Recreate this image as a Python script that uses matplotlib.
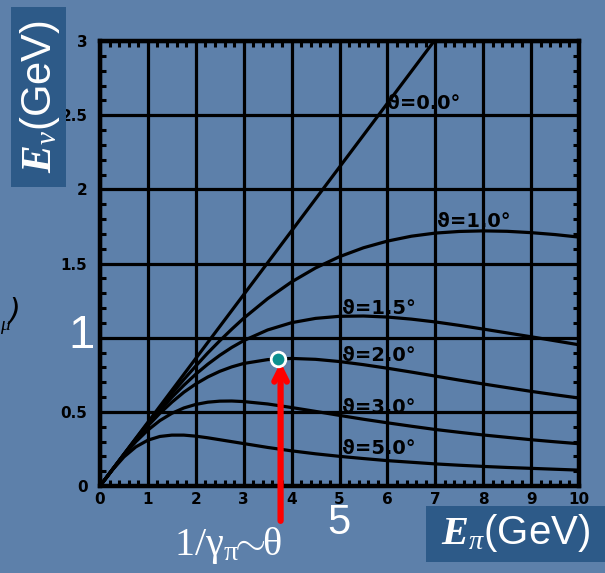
import matplotlib
matplotlib.use("Agg")
import matplotlib.pyplot as plt
from matplotlib.patches import Rectangle
from matplotlib.ticker import MultipleLocator

plt.rcParams['mathtext.fontset'] = 'custom'
plt.rcParams['mathtext.rm'] = 'Liberation Serif'
plt.rcParams['mathtext.it'] = 'Liberation Serif:italic'
plt.rcParams['mathtext.bf'] = 'Liberation Serif:bold:italic'

# ---- data ----
e_pi = [0, 0.25, 0.5, 0.75, 1, 1.25, 1.5, 1.75, 2, 2.25, 2.5, 2.75, 3,
        3.5, 4, 4.5, 5, 5.5, 6, 6.5, 7, 7.5, 8, 8.5, 9, 9.5, 10]
theta0_x = [0, 7.0]
theta0_y = [0, 3.01]
theta10 = [0, 0.107, 0.214, 0.320, 0.423, 0.525, 0.623, 0.718, 0.809, 0.897, 0.979, 1.057, 1.131,
           1.263, 1.376, 1.470, 1.546, 1.606, 1.651, 1.684, 1.705, 1.716, 1.720, 1.717, 1.708, 1.695, 1.678]
theta15 = [0, 0.107, 0.213, 0.316, 0.415, 0.510, 0.598, 0.679, 0.754, 0.821, 0.881, 0.934, 0.980,
           1.052, 1.101, 1.130, 1.144, 1.146, 1.139, 1.125, 1.106, 1.083, 1.058, 1.032, 1.006, 0.979, 0.952]
theta20 = [0, 0.107, 0.212, 0.312, 0.405, 0.490, 0.565, 0.632, 0.688, 0.735, 0.773, 0.803, 0.826,
           0.852, 0.860, 0.854, 0.839, 0.818, 0.794, 0.768, 0.741, 0.714, 0.688, 0.663, 0.638, 0.615, 0.593]
theta30 = [0, 0.107, 0.208, 0.299, 0.377, 0.441, 0.490, 0.526, 0.550, 0.565, 0.572, 0.573, 0.569,
           0.553, 0.529, 0.503, 0.476, 0.450, 0.426, 0.403, 0.381, 0.362, 0.344, 0.328, 0.312, 0.298, 0.285]
theta50 = [0, 0.105, 0.196, 0.264, 0.309, 0.334, 0.343, 0.343, 0.336, 0.325, 0.312, 0.299, 0.286,
           0.260, 0.237, 0.217, 0.200, 0.185, 0.171, 0.160, 0.149, 0.140, 0.132, 0.125, 0.119, 0.113, 0.107]
curve_labels = ['ϑ=0.0°', 'ϑ=1.0°', 'ϑ=1.5°', 'ϑ=2.0°', 'ϑ=3.0°', 'ϑ=5.0°']
label_x = [6.0, 7.04, 5.05, 5.05, 5.05, 5.05]
label_y = [2.58, 1.78, 1.20, 0.88, 0.53, 0.25]
x_ticks = [0, 1, 2, 3, 4, 5, 6, 7, 8, 9, 10]
y_ticks = [0, 0.5, 1, 1.5, 2, 2.5, 3]
y_ticklabels = ['0', '0.5', '', '1.5', '2', '2.5', '3']
marker_x, marker_y = 3.72, 0.855
arrow_x = 3.77

BG = '#5d80aa'
BOX = '#2d5a88'
W, H = 605, 573

fig = plt.figure(figsize=(W / 100, H / 100), dpi=100, facecolor=BG)
ax = fig.add_axes([100 / W, 87 / H, 479 / W, 445 / H])
ax.set_facecolor('none')
ax.set_xlim(0, 10)
ax.set_ylim(0, 3)

ax.set_xticks(x_ticks)
ax.set_xticklabels([str(v) for v in x_ticks])
ax.set_yticks(y_ticks)
ax.set_yticklabels(y_ticklabels)
ax.xaxis.set_minor_locator(MultipleLocator(0.2))
ax.yaxis.set_minor_locator(MultipleLocator(0.1))
ax.tick_params(which='major', length=0, labelsize=11, labelcolor='black')
ax.tick_params(axis='x', which='major', pad=4)
ax.tick_params(axis='y', which='major', pad=9)
ax.tick_params(which='minor', direction='in', length=4, width=2.2, color='black',
               top=True, right=True)
for lab in ax.get_xticklabels() + ax.get_yticklabels():
    lab.set_fontweight('bold')
ax.grid(True, which='major', color='black', linewidth=2.3)
for s in ax.spines.values():
    s.set_linewidth(3.2)
    s.set_color('black')

lw = 2.3
ax.plot(theta0_x, theta0_y, color='black', lw=lw)
for ys in [theta10, theta15, theta20, theta30, theta50]:
    ax.plot(e_pi, ys, color='black', lw=lw, solid_joinstyle='round')

for t, lx, ly in zip(curve_labels, label_x, label_y):
    ax.text(lx, ly, t, fontsize=14, fontweight='bold', color='black',
            ha='left', va='center', family='DejaVu Sans')

# red arrow and marker
ax.annotate('', xy=(arrow_x, marker_y - 0.02), xytext=(arrow_x, -0.235),
            xycoords='data', textcoords='data', annotation_clip=False,
            arrowprops=dict(arrowstyle='->,head_length=0.9,head_width=0.45',
                            color='#ff0000', lw=4.5, shrinkA=0, shrinkB=0,
                            capstyle='round'))
ax.plot([marker_x], [marker_y], 'o', ms=10.5, mfc='#0b8f8f', mec='white', mew=2,
        zorder=10, clip_on=False)

# label boxes (drawn above the axes so they cover stray tick text)
fig.patches.append(Rectangle((11 / W, (H - 187) / H), 55 / W, 180 / H,
                             transform=fig.transFigure, facecolor=BOX, edgecolor='none',
                             zorder=5))
fig.patches.append(Rectangle((426 / W, (H - 562) / H), 179 / W, 56 / H,
                             transform=fig.transFigure, facecolor=BOX, edgecolor='none',
                             zorder=5))

fig.text(40 / W, (H - 97) / H, r'$\mathbf{E}_{\nu}$(GeV)', rotation=90, color='white',
         fontsize=30, ha='center', va='center', family='Liberation Sans', zorder=6)
fig.text(516 / W, (H - 533) / H, r'$\mathbf{E}_{\pi}$(GeV)', color='white',
         fontsize=29, ha='center', va='center', family='Liberation Sans', zorder=6)

fig.text(81 / W, (H - 336) / H, '1', color='white', fontsize=34,
         ha='center', va='center', family='Liberation Sans')
fig.text(339 / W, (H - 523) / H, '5', color='white', fontsize=30,
         ha='center', va='center', family='Liberation Sans')
fig.text(228 / W, (H - 546) / H, r'$\mathrm{1/\gamma_{\pi}\!\!\sim\!\!\theta}$', color='white',
         fontsize=29, ha='center', va='center')
fig.text(0 / W, (H - 326) / H, r'$\mu$', color='black', fontsize=14,
         ha='left', va='center')
fig.text(9 / W, (H - 311) / H, ')', color='black', fontsize=22,
         ha='left', va='center', family='DejaVu Sans', style='italic')

fig.savefig('out.png', dpi=100, facecolor=BG)
